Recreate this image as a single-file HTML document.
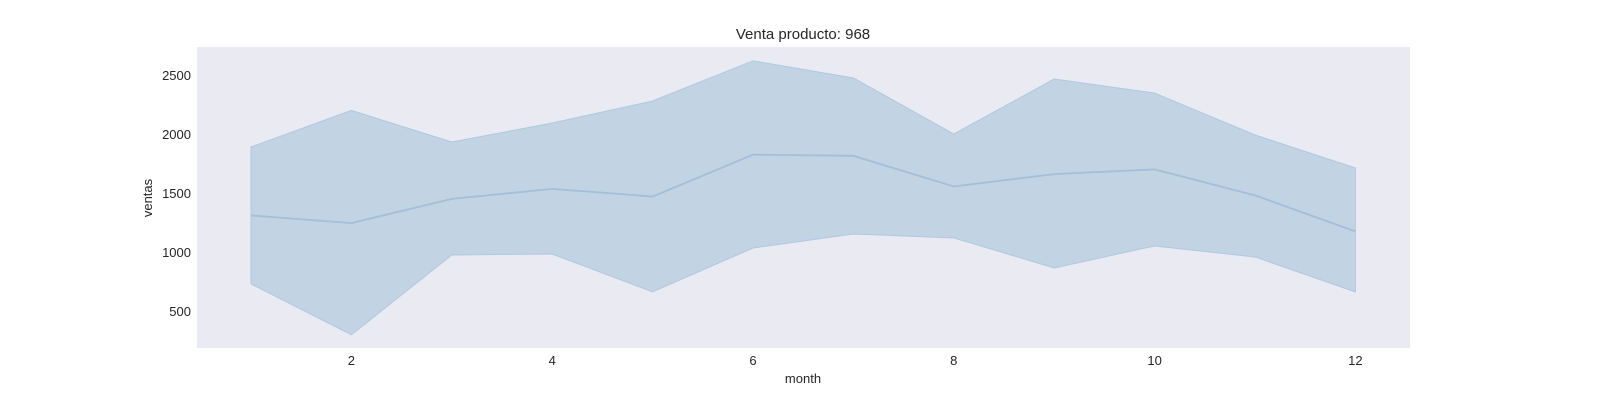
<!DOCTYPE html>
<html><head><meta charset="utf-8"><style>
body{margin:0;background:#fff;}
svg{display:block;font-family:"Liberation Sans",Arial,sans-serif;}
</style></head><body>
<svg id="chart" width="1600" height="400">
<rect x="197" y="47" width="1213" height="301" fill="#eaeaf2"/>
<text x="803" y="39" text-anchor="middle" font-size="15" fill="#262626">Venta producto: 968</text>
<text x="803" y="383" text-anchor="middle" font-size="13" fill="#262626">month</text>
<text transform="translate(152,198) rotate(-90)" text-anchor="middle" font-size="13" fill="#262626">ventas</text>
<g id="xt"></g><g id="yt"></g><g id="series"></g>
</svg>
<script>
const months=[1,2,3,4,5,6,7,8,9,10,11,12];
const meanVals=[1310,1245,1450,1535,1470,1825,1815,1555,1660,1700,1480,1175];
const upperVals=[1890,2200,1932,2093,2280,2620,2475,2000,2466,2347,1992,1712];
const lowerVals=[730,298,975,983,662,1034,1153,1119,865,1051,958,662];
const xTicks=[2,4,6,8,10,12];
const yTicks=[500,1000,1500,2000,2500];
const NS="http://www.w3.org/2000/svg";
function xs(m){return 251+(m-1)*100.4;}
function ys(v){return 75+(2500-v)*59/500;}
const xt=document.getElementById('xt'),yt=document.getElementById('yt'),sg=document.getElementById('series');
xTicks.forEach(t=>{const e=document.createElementNS(NS,'text');


e.setAttribute('x',xs(t));e.setAttribute('y',365);e.setAttribute('text-anchor','middle');e.setAttribute('font-size','13');e.setAttribute('fill','#262626');e.textContent=t;xt.appendChild(e);});
yTicks.forEach(t=>{const e=document.createElementNS(NS,'text');


e.setAttribute('x',191);e.setAttribute('y',ys(t)+5);e.setAttribute('text-anchor','end');e.setAttribute('font-size','13');e.setAttribute('fill','#262626');e.textContent=t;yt.appendChild(e);});
let pts=months.map((m,i)=>xs(m)+','+ys(upperVals[i]));
for(let i=months.length-1;i>=0;i--)pts.push(xs(months[i])+','+ys(lowerVals[i]));
const band=document.createElementNS(NS,'polygon');


band.setAttribute('points',pts.join(' '));band.setAttribute('fill','#c2d3e4');band.setAttribute('stroke','#b0c8df');band.setAttribute('stroke-width','1');
sg.appendChild(band);
const line=document.createElementNS(NS,'polyline');


line.setAttribute('points',months.map((m,i)=>xs(m)+','+ys(meanVals[i])).join(' '));
line.setAttribute('fill','none');line.setAttribute('stroke','#a3bfd9');line.setAttribute('stroke-width','1.8');
sg.appendChild(line);
</script>
</body></html>
